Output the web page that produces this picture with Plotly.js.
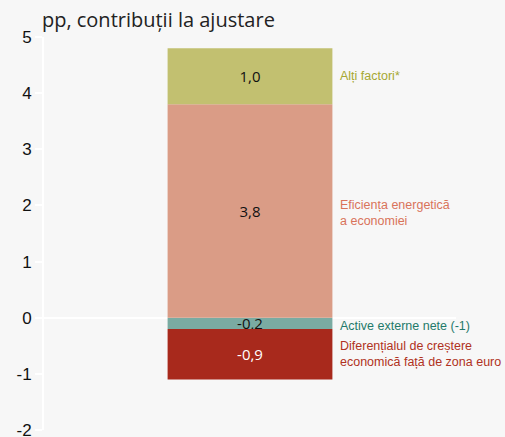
<!DOCTYPE html>
<html>
<head>
<meta charset="utf-8">
<script src="https://cdn.plot.ly/plotly-3.0.1.min.js"></script>
<style>
  html, body { margin: 0; padding: 0; background: #f7f7f7; }
  #chart { width: 505px; height: 437px; }
</style>
</head>
<body>
<div id="chart"></div>
<script>
var category = ['2019'];
var seriesNames = ['Active externe nete (-1)', 'Diferențialul de creștere<br>economică față de zona euro', 'Eficiența energetică<br>a economiei', 'Alți factori*'];
var seriesValues = [-0.2, -0.9, 3.8, 1.0];
var barColors = ['#7aaba2', '#a8291c', '#da9c86', '#c2c070'];
var labelColors = ['#1f7a6a', '#b03222', '#d9735a', '#a6a832'];
var textColors = ['#111111', '#ffffff', '#111111', '#111111'];
var yTicks = [-2, -1, 0, 1, 2, 3, 4, 5];

var narrow = 'Liberation Sans, Arial, sans-serif';

function fmt(v) { return v.toFixed(1).replace('.', ','); }

var data = [];
var annotations = [];
var posBase = 0, negBase = 0;
for (var i = 0; i < seriesValues.length; i++) {
  var v = seriesValues[i];
  data.push({
    x: category,
    y: [v],
    name: seriesNames[i],
    type: 'bar',
    width: 0.4,
    marker: { color: barColors[i] },
    text: [fmt(v)],
    textposition: 'inside',
    insidetextanchor: 'middle',
    constraintext: 'none',
    textfont: { family: 'Open Sans, sans-serif', size: 15, color: textColors[i] },
    hoverinfo: 'text'
  });
  var mid;
  if (v >= 0) { mid = posBase + v / 2; posBase += v; }
  else { mid = negBase + v / 2; negBase += v; }
  annotations.push({
    xref: 'paper', yref: 'y',
    x: 0.715, y: mid,
    xanchor: 'left', yanchor: 'middle', align: 'left',
    text: seriesNames[i],
    showarrow: false,
    borderpad: 0,
    font: { family: narrow, size: 12.5, color: labelColors[i] }
  });
}
// keep label positions as in original
annotations[0].y = -0.14;
annotations[2].y = 1.87;
annotations[3].y = 4.3;

var layout = {
  width: 505,
  height: 437,
  paper_bgcolor: '#f7f7f7',
  plot_bgcolor: '#f7f7f7',
  barmode: 'relative',
  showlegend: false,
  margin: { l: 44, r: 49, t: 37, b: 7 },
  title: {
    text: 'pp, contribuții la ajustare',
    x: 0.083, xref: 'container', xanchor: 'left',
    y: 0.955, yanchor: 'middle',
    font: { family: 'Open Sans, sans-serif', size: 20, color: '#222222' }
  },
  xaxis: {
    type: 'category',
    range: [-0.5, 0.5],
    showticklabels: false,
    showgrid: false,
    zeroline: false,
    showline: false,
    ticks: ''
  },
  yaxis: {
    range: [-2, 5],
    tickvals: yTicks,
    ticktext: yTicks.map(String),
    ticklabeloverflow: 'allow',
    showgrid: false,
    zeroline: true,
    zerolinecolor: '#ffffff',
    zerolinewidth: 2,
    showline: true,
    linecolor: '#ffffff',
    linewidth: 2,
    ticks: 'outside',
    ticklen: 7,
    tickcolor: '#ffffff',
    tickwidth: 2,
    tickfont: { family: narrow, size: 17, color: '#111111' }
  },
  annotations: annotations
};

Plotly.newPlot('chart', data, layout, { displayModeBar: false });
</script>
</body>
</html>
